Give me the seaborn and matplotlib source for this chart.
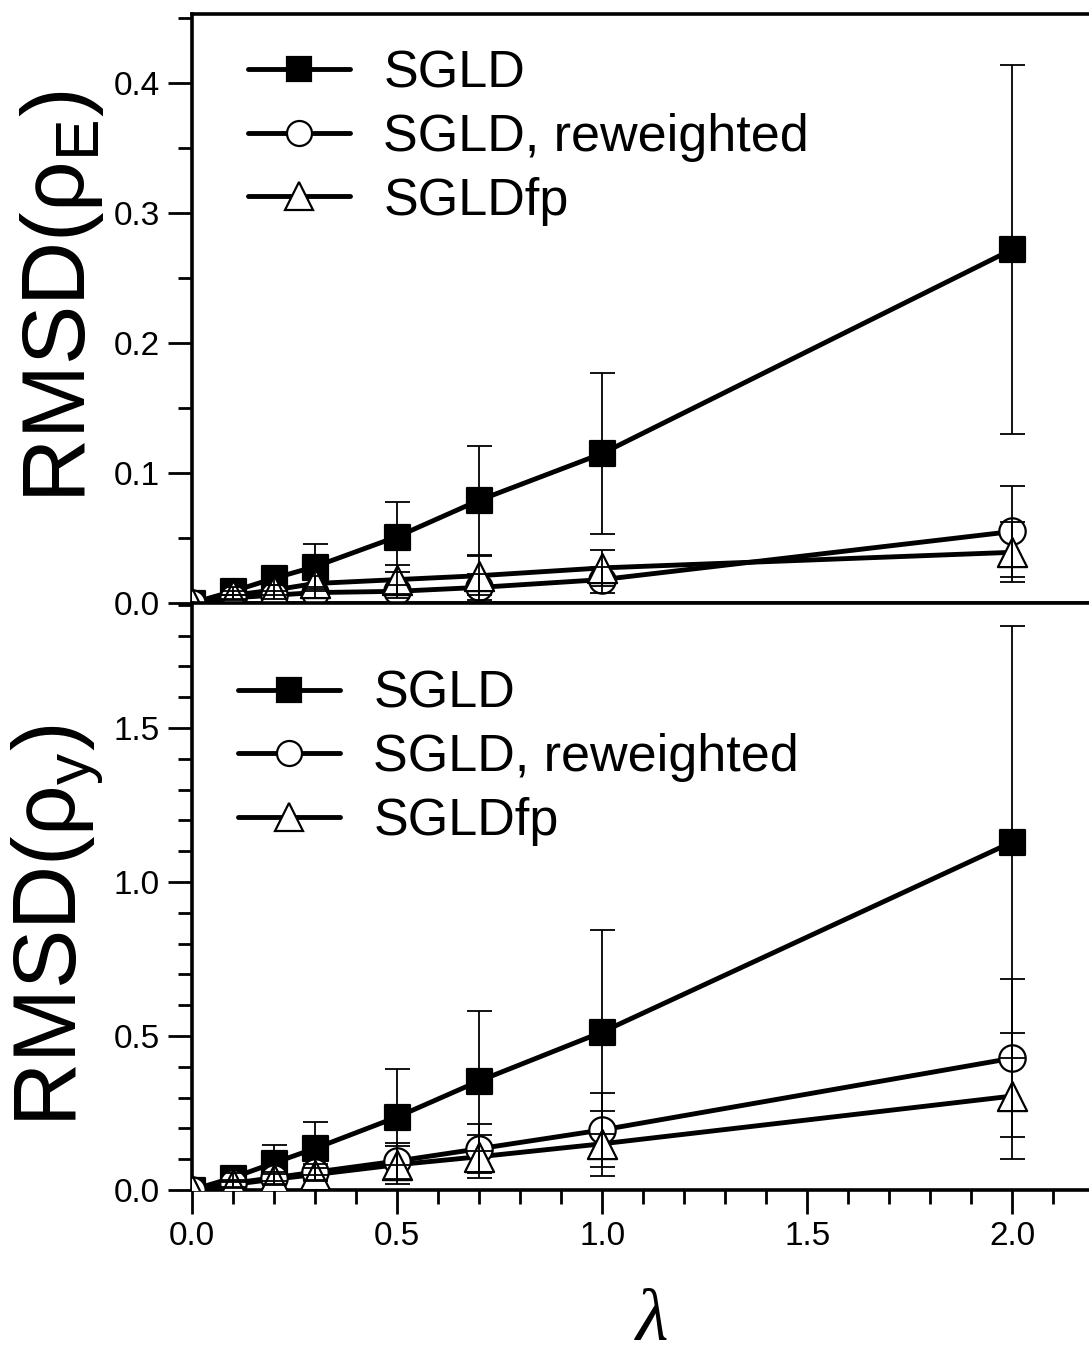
import matplotlib
matplotlib.use("Agg")
import matplotlib.pyplot as plt
from matplotlib.lines import Line2D
from matplotlib.ticker import MultipleLocator, FormatStrFormatter
import seaborn as sns

# coupling strength
lam = [0.0, 0.1, 0.2, 0.3, 0.5, 0.7, 1.0, 2.0]

# RMSD of rho_E
sgld_E = [0.0, 0.009, 0.019, 0.028, 0.051, 0.079, 0.115, 0.272]
sgld_E_err = [0.0, 0.003, 0.005, 0.017, 0.027, 0.042, 0.062, 0.142]
rew_E = [0.0, 0.004, 0.006, 0.008, 0.009, 0.012, 0.018, 0.055]
rew_E_err = [0.0, 0.002, 0.003, 0.004, 0.005, 0.010, 0.010, 0.035]
fp_E = [0.0, 0.006, 0.010, 0.015, 0.018, 0.021, 0.027, 0.039]
fp_E_err = [0.0, 0.003, 0.004, 0.006, 0.011, 0.015, 0.014, 0.023]

# RMSD of rho_y
sgld_y = [0.0, 0.040, 0.088, 0.135, 0.237, 0.354, 0.513, 1.130]
sgld_y_err = [0.0, 0.015, 0.058, 0.087, 0.155, 0.227, 0.331, 0.700]
rew_y = [0.0, 0.022, 0.040, 0.058, 0.094, 0.134, 0.195, 0.428]
rew_y_err = [0.0, 0.012, 0.020, 0.025, 0.058, 0.080, 0.120, 0.257]
fp_y = [0.0, 0.018, 0.035, 0.050, 0.082, 0.108, 0.150, 0.305]
fp_y_err = [0.0, 0.010, 0.018, 0.022, 0.062, 0.070, 0.105, 0.205]

labels = ["SGLD", "SGLD, reweighted", "SGLDfp"]
markers = ["s", "o", "^"]
faces = ["black", "white", "white"]
msizes = [18, 19, 21]

sns.set_theme(style="ticks")
plt.rcParams["font.family"] = ["Liberation Sans", "DejaVu Sans"]
plt.rcParams["mathtext.fontset"] = "custom"
plt.rcParams["mathtext.rm"] = "Liberation Sans"
for key in ["text.color", "axes.labelcolor", "axes.edgecolor",
            "xtick.color", "ytick.color"]:
    plt.rcParams[key] = "black"

LW = 3.5

fig = plt.figure(figsize=(10.89, 13.59), dpi=100)
ax_top = fig.add_axes([0.17631, 0.55629, 0.8287, 0.43341])
ax_bot = fig.add_axes([0.17631, 0.12436, 0.8287, 0.43194])


def draw_panel(ax, series):
    for vals, _ in series:
        sns.lineplot(x=lam, y=vals, ax=ax, color="black", lw=LW, zorder=2,
                     sort=False, errorbar=None, legend=False)
    for (vals, _), mk, fc, ms in zip(series, markers, faces, msizes):
        sns.scatterplot(x=lam, y=vals, ax=ax, marker=mk, s=ms ** 2, color=fc,
                        edgecolor="black", linewidth=1.6, zorder=3, legend=False)
    for vals, errs in series:
        ax.errorbar(lam[1:], vals[1:], yerr=errs[1:], fmt="none", ecolor="black",
                    elinewidth=1.3, capsize=9, capthick=1.3, zorder=4)


def style_axes(ax, ymax, ymajor, yminor):
    ax.set_xlim(0, 2.2)
    ax.set_ylim(0, ymax)
    ax.xaxis.set_major_locator(MultipleLocator(0.5))
    ax.xaxis.set_minor_locator(MultipleLocator(0.1))
    ax.yaxis.set_major_locator(MultipleLocator(ymajor))
    ax.yaxis.set_minor_locator(MultipleLocator(yminor))
    ax.xaxis.set_major_formatter(FormatStrFormatter("%.1f"))
    ax.yaxis.set_major_formatter(FormatStrFormatter("%.1f"))
    ax.tick_params(which="major", direction="out", length=17, width=2.0,
                   labelsize=24, color="black", labelcolor="black")
    ax.tick_params(which="minor", direction="out", length=10, width=2.0,
                   color="black")
    ax.tick_params(axis="y", which="both", left=True, right=False, pad=6)
    ax.tick_params(axis="x", which="both", bottom=True, top=False, pad=5)
    for sp in ax.spines.values():
        sp.set_linewidth(2.6)
        sp.set_color("black")
    ax.set_xlabel("")


def add_legend(ax, anchor):
    handles = [Line2D([0], [0], color="black", lw=LW, marker=mk, ms=ms - 1,
                      mfc=fc, mec="black", mew=1.6)
               for mk, fc, ms in zip(markers, faces, msizes)]
    ax.legend(handles, labels, loc="upper left", bbox_to_anchor=anchor,
              frameon=False, fontsize=37.5, handlelength=1.95, handletextpad=0.65,
              labelspacing=0.28, borderaxespad=0, borderpad=0)


draw_panel(ax_top, [(sgld_E, sgld_E_err), (rew_E, rew_E_err), (fp_E, fp_E_err)])
draw_panel(ax_bot, [(sgld_y, sgld_y_err), (rew_y, rew_y_err), (fp_y, fp_y_err)])

style_axes(ax_top, 0.453, 0.1, 0.05)
style_axes(ax_bot, 1.906, 0.5, 0.1)
ax_top.tick_params(axis="x", labelbottom=False)

add_legend(ax_top, (0.062, 0.94))
add_legend(ax_bot, (0.051, 0.886))

ax_top.set_ylabel("RMSD(ρ$_\\mathregular{E}$)", fontsize=64)
ax_bot.set_ylabel("RMSD(ρ$_\\mathregular{y}$)", fontsize=64)
ax_top.yaxis.set_label_coords(-0.095, 0.52)
ax_bot.yaxis.set_label_coords(-0.095, 0.45)

fig.text(652 / 1089, 3 / 1359, "λ", fontsize=54, fontstyle="italic",
         family=["Liberation Serif", "DejaVu Serif"], ha="center", va="bottom")

fig.savefig("out.png", dpi=100, facecolor="white")
